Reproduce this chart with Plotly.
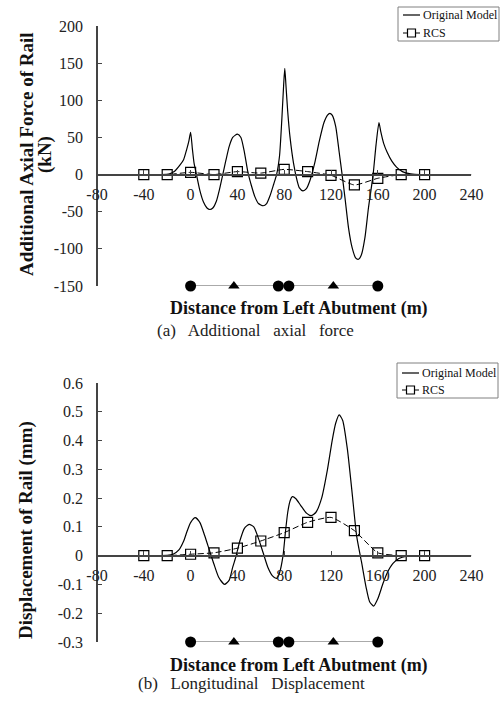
import plotly.graph_objects as go

# ---------------- data ----------------
# (a) additional axial force of rail (kN)
force_orig_x = [-80, -40, -25, -18, -14, -9, -6, -3.5, -1.5, 0, 1.5, 3, 5, 8, 11, 14, 16.5, 19, 22, 25, 27.5,
                30, 33, 36, 40, 43, 46, 49, 52, 55, 58, 62, 65, 68, 71, 73.5, 76, 78, 79.5, 80.5, 81.5, 83,
                85, 88, 91, 93, 96, 99, 102, 106, 110, 114, 117, 119, 121, 124, 127, 129.5, 132, 135, 138,
                141, 143.5, 146, 149, 152, 156, 158.5, 161, 162.5, 165, 168, 172, 176, 181, 188, 196, 240]
force_orig_y = [0, 0, 0, 1, 4, 13, 20, 33, 45, 57, 35, 15, 0, -22, -37, -45, -47, -45, -36, -18, 0,
                18, 38, 50, 54.5, 50, 30, 3, -15, -30, -39, -42, -39, -28, -13, 0, 25, 75, 120, 143, 120, 85,
                50, 15, -8, -18, -22, -19, -8, 15, 45, 70, 80, 82.5, 80, 65, 30, 0, -32, -72, -98,
                -112, -114, -108, -85, -45, 0, 40, 70, 58, 42, 30, 18, 10, 4, 1, 0, 0]
force_rcs_x = [-40, -20, 0, 20, 40, 60, 80, 100, 120, 140, 160, 180, 200]
force_rcs_y = [0, 0, 3, 0, 4, 2, 7, 4, -1, -14, -5, 0, 0]

# (b) longitudinal displacement of rail (mm)
disp_orig_x = [-80, -40, -20, -15, -10, -6, -3, 0, 4, 8, 12, 16, 20, 24, 29, 33, 36, 39, 42, 46, 50,
               54, 58, 62, 66, 70, 73.5, 76, 79, 81, 83, 85, 87, 90, 94, 99, 103, 107, 112, 117, 121,
               124, 127, 130, 134, 138, 142, 146, 150, 153, 156.5, 160, 164.5, 168, 173, 178, 185, 195, 240]
disp_orig_y = [0, 0, 0.001, 0.005, 0.02, 0.05, 0.085, 0.115, 0.132, 0.115, 0.07, 0.02, -0.03, -0.075, -0.1,
               -0.085, -0.04, 0, 0.05, 0.095, 0.109, 0.1, 0.06, 0.01, -0.04, -0.07, -0.079, -0.06, 0,
               0.08, 0.15, 0.19, 0.205, 0.198, 0.175, 0.148, 0.139, 0.15, 0.2, 0.3, 0.4, 0.46, 0.489,
               0.47, 0.37, 0.22, 0.066, -0.02, -0.11, -0.16, -0.175, -0.15, -0.096, -0.06, -0.027, -0.01,
               -0.002, 0, 0]
disp_rcs_x = [-40, -20, 0, 20, 40, 60, 80, 100, 120, 140, 160, 180, 200]
disp_rcs_y = [0, 0, 0.005, 0.01, 0.026, 0.051, 0.08, 0.116, 0.133, 0.087, 0.01, 0, 0]

# bridge supports
pier_circle_x = [0, 75, 84, 160]
pier_triangle_x = [37, 122]

x_ticks = [-80, -40, 0, 40, 80, 120, 160, 200, 240]
x_ticktext = ["-80", "-40", "0", "40", "80", "120", "160", "200", "240"]
force_ticks = [-150, -100, -50, 0, 50, 100, 150, 200]
force_ticktext = ["-150", "-100", "-50", "0", "50", "100", "150", "200"]
disp_ticks = [-0.3, -0.2, -0.1, 0, 0.1, 0.2, 0.3, 0.4, 0.5, 0.6]
disp_ticktext = ["-0.3", "-0.2", "-0.1", "0", "0.1", "0.2", "0.3", "0.4", "0.5", "0.6"]

series_names = ["Original Model", "RCS"]

# ---------------- figure ----------------
W, H = 500, 704
SERIF = "Liberation Serif, Times New Roman, serif"
INK = "#111111"

def px_(p):
    return p / W

def py(p):
    return 1 - p / H

fig = go.Figure()

def add_panel(xa, ya, ox, oy, rx, ry, ybase):
    fig.add_trace(go.Scatter(x=ox, y=oy, mode="lines", name=series_names[0],
                             line=dict(color="black", width=1.2, shape="spline", smoothing=0.6),
                             xaxis=xa, yaxis=ya, showlegend=False))
    fig.add_trace(go.Scatter(x=rx, y=ry, mode="lines+markers", name=series_names[1],
                             line=dict(color="black", width=1, dash="6px,3px", shape="spline", smoothing=0.5),
                             marker=dict(symbol="square-open", size=10, color="black", line=dict(width=1.2)),
                             xaxis=xa, yaxis=ya, showlegend=False))
    fig.add_trace(go.Scatter(x=[pier_circle_x[0], pier_circle_x[-1]], y=[ybase, ybase], mode="lines",
                             line=dict(color="#555555", width=1), showlegend=False,
                             cliponaxis=False, xaxis=xa, yaxis=ya, hoverinfo="skip"))
    fig.add_trace(go.Scatter(x=pier_circle_x, y=[ybase] * len(pier_circle_x), mode="markers",
                             marker=dict(symbol="circle", size=11, color="black"), showlegend=False,
                             cliponaxis=False, xaxis=xa, yaxis=ya, hoverinfo="skip"))
    fig.add_trace(go.Scatter(x=pier_triangle_x, y=[ybase] * len(pier_triangle_x), mode="markers",
                             marker=dict(symbol="triangle-up", size=10, color="black"), showlegend=False,
                             cliponaxis=False, xaxis=xa, yaxis=ya, hoverinfo="skip"))

add_panel("x", "y", force_orig_x, force_orig_y, force_rcs_x, force_rcs_y, -150)
add_panel("x2", "y2", disp_orig_x, disp_orig_y, disp_rcs_x, disp_rcs_y, -0.3)

xdom = [97 / W, 471.4 / W]
tickfont = dict(family=SERIF, size=16, color="#222222")

def xaxis_cfg(pos):
    return dict(domain=xdom, range=[-80, 240], anchor="free", position=pos, automargin=False,
                tickvals=x_ticks, ticktext=x_ticktext, ticks="inside", ticklen=4,
                tickcolor="#444444", showline=True, linecolor="#444444", linewidth=1.5,
                showgrid=False, zeroline=False, tickfont=tickfont, ticklabelstandoff=5)

def yaxis_cfg(dom, rng, tv, tt):
    return dict(domain=dom, range=rng, anchor="free", position=xdom[0], automargin=False,
                tickvals=tv, ticktext=tt, ticks="inside", ticklen=4, tickcolor="#444444",
                showline=True, linecolor="#444444", linewidth=1.5, showgrid=False,
                zeroline=False, tickfont=tickfont, ticklabelstandoff=10)

fig.update_layout(
    width=W, height=H, margin=dict(l=0, r=0, t=0, b=0, autoexpand=False),
    paper_bgcolor="white", plot_bgcolor="rgba(0,0,0,0)",
    font=dict(family=SERIF, color=INK),
    xaxis=xaxis_cfg(py(174.6)),
    yaxis=yaxis_cfg([py(286), py(26)], [-150, 200], force_ticks, force_ticktext),
    xaxis2=xaxis_cfg(py(555.7)),
    yaxis2=yaxis_cfg([py(642), py(383)], [-0.3, 0.6], disp_ticks, disp_ticktext),
    showlegend=False,
)

ann = []
shapes = []

def A(text, x, y, size, bold=False, angle=0, color=INK, xanchor="center"):
    ann.append(dict(text=f"<b>{text}</b>" if bold else text, x=px_(x), y=py(y),
                    xref="paper", yref="paper", textangle=angle, showarrow=False,
                    xanchor=xanchor, yanchor="middle",
                    font=dict(family=SERIF, size=size, color=color)))

SP = "\u00a0\u00a0 "
A("Additional Axial Force of Rail", 26, 155, 19, bold=True, angle=-90)
A("(kN)", 45, 155, 19, bold=True, angle=-90)
A("Displacement of Rail (mm)", 26, 530, 19, bold=True, angle=-90)
A("Distance from Left Abutment (m)", 299, 308, 18, bold=True)
A("Distance from Left Abutment (m)", 299, 665, 18, bold=True)
A(f"(a){SP}Additional{SP}axial{SP}force", 255, 330, 17, color="#222222")
A(f"(b){SP}Longitudinal{SP}Displacement", 251, 683, 17, color="#222222")

# manual legends (box, samples, labels)
def legend_box(x0, y0, x1, y1, row1, row2):
    shapes.append(dict(type="rect", xref="paper", yref="paper", x0=px_(x0), x1=px_(x1),
                       y0=py(y1), y1=py(y0), line=dict(color="#808080", width=1), fillcolor="white"))
    lx0, lx1 = x0 + 5, x0 + 22
    shapes.append(dict(type="line", xref="paper", yref="paper", x0=px_(lx0), x1=px_(lx1),
                       y0=py(row1), y1=py(row1), line=dict(color="black", width=1.2)))
    shapes.append(dict(type="line", xref="paper", yref="paper", x0=px_(lx0), x1=px_(lx1),
                       y0=py(row2), y1=py(row2), line=dict(color="black", width=1)))
    shapes.append(dict(type="rect", xref="paper", yref="paper", x0=px_(lx0 + 4.5), x1=px_(lx0 + 12.5),
                       y0=py(row2 + 4), y1=py(row2 - 4), line=dict(color="black", width=1.2),
                       fillcolor="white"))
    A(series_names[0], x0 + 23, row1, 12, xanchor="left")
    A(series_names[1], x0 + 23, row2, 12, xanchor="left")

legend_box(398, 7, 499, 41, 15, 33)
legend_box(397, 363, 498, 398, 373, 390)

fig.update_layout(annotations=ann, shapes=shapes)

fig.write_html("out.html", config={"displayModeBar": False},
               post_script="document.body.style.margin='0px';")
